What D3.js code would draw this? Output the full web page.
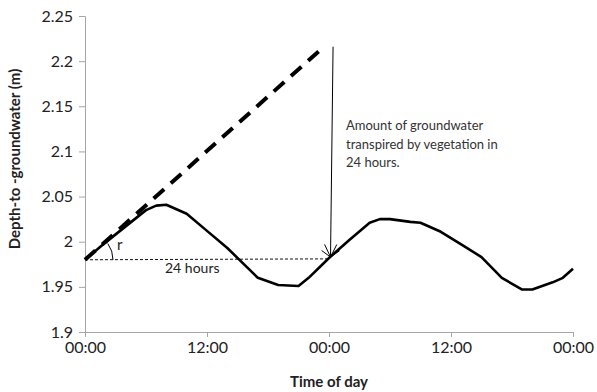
<!DOCTYPE html>
<html>
<head>
<meta charset="utf-8">
<script src="https://cdn.jsdelivr.net/npm/d3@7"></script>
<style>
  body { margin: 0; background: #fff; }
  svg { font-family: Lato, "Open Sans", sans-serif; }
</style>
</head>
<body>
<svg id="chart" width="597" height="392"></svg>
<script>
// hours since start and depth-to-groundwater (m)
const hours = [0, 2, 4, 6, 7, 8, 10, 12, 14, 16, 17, 19, 21, 22, 24, 26, 28, 29, 30, 32, 33, 35, 37, 39, 41, 43, 44, 46, 47, 48]
const depth = [1.980, 1.999, 2.017, 2.035, 2.040, 2.041, 2.031, 2.012, 1.993, 1.971, 1.960, 1.952, 1.951, 1.960, 1.982,
  2.002, 2.021, 2.025, 2.025, 2.022, 2.021, 2.011, 1.997, 1.983, 1.960, 1.947, 1.947, 1.955, 1.960, 1.970]

// extrapolated trend (no transpiration) and the 24 h markers
const trendHours = [0, 23.4]
const trendDepth = [1.980, 2.215]
const arrowHours = [24.4, 24.15]
const arrowDepth = [2.216, 1.983]
const spanHours = [0, 24.1]
const spanDepth = [1.980, 1.981]

const xTicks = [0, 12, 24, 36, 48]
const xTickLabels = ['00:00', '12:00', '00:00', '12:00', '00:00']
const yTicks = [1.9, 1.95, 2.0, 2.05, 2.1, 2.15, 2.2, 2.25]

const svg = d3.select('#chart')

const x = d3.scaleLinear().domain([0, 48]).range([85, 573])
const y = d3.scaleLinear().domain([1.9, 2.25]).range([332, 16])

const axisColor = '#a6a6a6'

// y axis
const yAxis = svg.append('g')
  .attr('transform', 'translate(85,0)')
  .call(d3.axisLeft(y).tickValues(yTicks).tickSize(6).tickPadding(6)
    .tickFormat(d => d3.format('')(+d.toFixed(2))))
yAxis.select('.domain').attr('stroke', axisColor)
yAxis.selectAll('.tick line').attr('stroke', axisColor)
yAxis.selectAll('.tick text')
  .attr('font-size', 16).attr('fill', '#222').attr('font-family', 'Lato')

// x axis
const xAxis = svg.append('g')
  .attr('transform', 'translate(0,332)')
  .call(d3.axisBottom(x).tickValues(xTicks).tickSize(5).tickPadding(5)
    .tickFormat((d, i) => xTickLabels[i]))
xAxis.select('.domain').attr('stroke', axisColor)
xAxis.selectAll('.tick line').attr('stroke', axisColor)
xAxis.selectAll('.tick text')
  .attr('font-size', 16).attr('fill', '#222').attr('font-family', 'Lato')

// axis titles
svg.append('text')
  .attr('transform', 'translate(20,159) rotate(-90)')
  .attr('text-anchor', 'middle')
  .attr('font-size', 15).attr('font-weight', 'bold').attr('fill', '#222')
  .text('Depth-to -groundwater (m)')

svg.append('text')
  .attr('x', 329).attr('y', 387)
  .attr('text-anchor', 'middle')
  .attr('font-size', 15).attr('font-weight', 'bold').attr('fill', '#222')
  .text('Time of day')

const line = d3.line().x(d => x(d[0])).y(d => y(d[1]))

// dotted 24 hour span
svg.append('path')
  .attr('d', line(d3.zip(spanHours, spanDepth)))
  .attr('fill', 'none').attr('stroke', '#111').attr('stroke-width', 1)
  .attr('stroke-dasharray', '3,2')

// dashed trend
svg.append('path')
  .attr('d', line(d3.zip(trendHours, trendDepth)))
  .attr('fill', 'none').attr('stroke', '#000').attr('stroke-width', 4)
  .attr('stroke-dasharray', '14,9')

// measured curve
svg.append('path')
  .attr('d', line(d3.zip(hours, depth)))
  .attr('fill', 'none').attr('stroke', '#000').attr('stroke-width', 2.6)
  .attr('stroke-linejoin', 'round')

// arrow
const a0 = [x(arrowHours[0]), y(arrowDepth[0])]
const a1 = [x(arrowHours[1]), y(arrowDepth[1])]
svg.append('line')
  .attr('x1', a0[0]).attr('y1', a0[1]).attr('x2', a1[0]).attr('y2', a1[1])
  .attr('stroke', '#000').attr('stroke-width', 1)
const ang = Math.atan2(a1[1] - a0[1], a1[0] - a0[0])
;[[-0.45, 14], [0.45, 14], [-0.95, 11], [0.95, 11]].forEach(([off, len]) => {
  svg.append('line')
    .attr('x1', a1[0]).attr('y1', a1[1])
    .attr('x2', a1[0] - len * Math.cos(ang + off))
    .attr('y2', a1[1] - len * Math.sin(ang + off))
    .attr('stroke', '#000').attr('stroke-width', 1)
})

// angle r
const o = [x(0), y(1.98)]
const rad = 28
const angEnd = 0.62
svg.append('path')
  .attr('d', `M${o[0] + rad},${o[1]} A${rad},${rad} 0 0 0 ${o[0] + rad * Math.cos(angEnd)},${o[1] - rad * Math.sin(angEnd)}`)
  .attr('fill', 'none').attr('stroke', '#000').attr('stroke-width', 1)

svg.append('text')
  .attr('x', 117).attr('y', 250)
  .attr('font-size', 15).attr('fill', '#222')
  .text('r')

svg.append('text')
  .attr('x', 165).attr('y', 273)
  .attr('font-size', 14).attr('fill', '#222')
  .text('24 hours')

const note = ['Amount of groundwater', 'transpired by vegetation in', '24 hours.']
svg.append('g').selectAll('text')
  .data(note)
  .join('text')
  .attr('x', 346)
  .attr('y', (d, i) => 130 + i * 18.5)
  .attr('font-size', 13).attr('fill', '#333')
  .text(d => d)
</script>
</body>
</html>
